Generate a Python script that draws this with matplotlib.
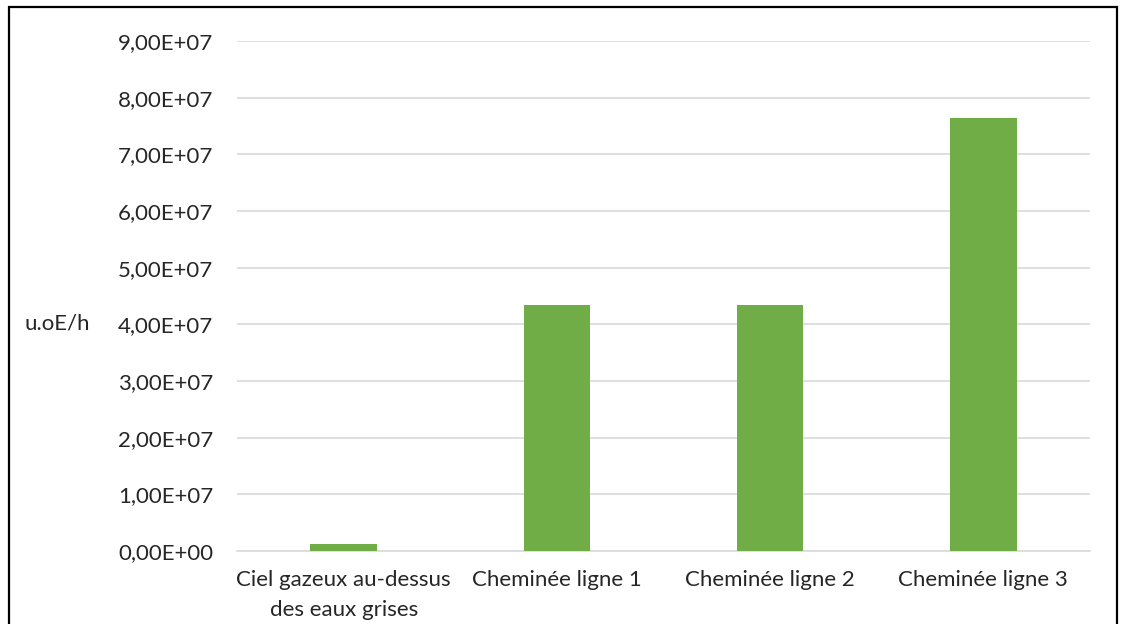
import matplotlib
matplotlib.use("Agg")
import matplotlib.pyplot as plt
from matplotlib.patches import Rectangle
from matplotlib.ticker import FuncFormatter, MultipleLocator

categories = ["Ciel gazeux au-dessus\ndes eaux grises", "Cheminée ligne 1",
              "Cheminée ligne 2", "Cheminée ligne 3"]
values = [1.2e6, 4.35e7, 4.35e7, 7.65e7]
y_label = "u.oE/h"

plt.rcParams["font.family"] = ["Lato", "DejaVu Sans"]
text_color = "#262626"

fig = plt.figure(figsize=(11.26, 6.24), dpi=100)
ax = fig.add_axes([237 / 1126, 1 - 551 / 624, (1090 - 237) / 1126, 510 / 624])

x = range(len(categories))
ax.bar(x, values, width=0.3125, color="#70AD47", zorder=3)

ax.set_xlim(-0.5, len(categories) - 0.5)
ax.set_ylim(0, 9e7)
ax.yaxis.set_major_locator(MultipleLocator(1e7))
ax.yaxis.set_major_formatter(FuncFormatter(lambda v, p: f"{v:.2E}".replace(".", ",")))
ax.set_xticks(list(x))
ax.set_xticklabels(categories, fontsize=16, color=text_color, linespacing=1.6)
ax.tick_params(axis="y", length=0, pad=17, labelsize=16, labelcolor=text_color)
ax.tick_params(axis="x", length=0, pad=14)

ax.grid(axis="y", color="#D9D9D9", linewidth=1.2, zorder=0)
for side in ("top", "right", "left"):
    ax.spines[side].set_visible(False)
ax.spines["bottom"].set_color("#D9D9D9")
ax.spines["bottom"].set_linewidth(1.2)

fig.text(25 / 1126, 1 - 323 / 624, y_label, fontsize=16, color=text_color,
         ha="left", va="center")

# Outer frame around the chart area
fig.patches.append(Rectangle((9 / 1126, -0.05), (1117 - 9) / 1126, 1.05 - 7 / 624,
                             transform=fig.transFigure, fill=False,
                             edgecolor="black", linewidth=1.6, zorder=10))

fig.savefig("out.png", dpi=100, facecolor="white")
